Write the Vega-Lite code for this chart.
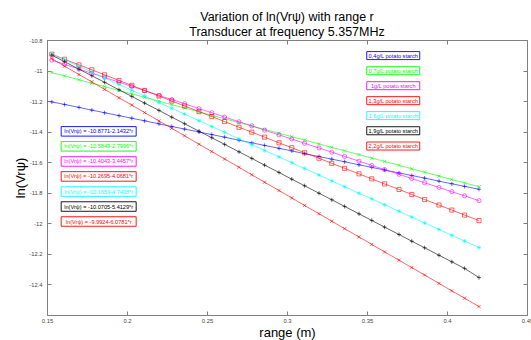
{
  "$schema": "https://vega.github.io/schema/vega-lite/v6.json",
  "width": 480,
  "height": 275,
  "autosize": "none",
  "padding": {"left": 47, "top": 40, "right": 4, "bottom": 25},
  "background": "white",
  "title": {
    "text": ["Variation of ln(Vrψ) with range r", "Transducer at frequency 5.357MHz"],
    "fontSize": 12.5, "fontWeight": "normal", "font": "Liberation Sans", "color": "#000",
    "anchor": "middle", "lineHeight": 15, "offset": 5, "baseline": "alphabetic", "dy": 16
  },
  "datasets": {
    "meas": [
      {"r": 0.153, "a": -11.205, "b": -11.013, "c": -10.932, "d": -10.893, "e": -10.892, "f": -10.899, "g": -10.922},
      {"r": 0.161, "a": -11.222, "b": -11.035, "c": -10.959, "d": -10.926, "e": -10.930, "f": -10.942, "g": -10.971},
      {"r": 0.170, "a": -11.241, "b": -11.060, "c": -10.990, "d": -10.963, "e": -10.972, "f": -10.991, "g": -11.026},
      {"r": 0.178, "a": -11.259, "b": -11.083, "c": -11.018, "d": -10.995, "e": -11.010, "f": -11.034, "g": -11.074},
      {"r": 0.186, "a": -11.276, "b": -11.105, "c": -11.045, "d": -11.028, "e": -11.048, "f": -11.077, "g": -11.123},
      {"r": 0.195, "a": -11.295, "b": -11.130, "c": -11.076, "d": -11.065, "e": -11.091, "f": -11.126, "g": -11.178},
      {"r": 0.203, "a": -11.312, "b": -11.153, "c": -11.104, "d": -11.097, "e": -11.129, "f": -11.169, "g": -11.226},
      {"r": 0.211, "a": -11.329, "b": -11.175, "c": -11.131, "d": -11.130, "e": -11.167, "f": -11.213, "g": -11.275},
      {"r": 0.220, "a": -11.349, "b": -11.200, "c": -11.162, "d": -11.167, "e": -11.210, "f": -11.261, "g": -11.330},
      {"r": 0.228, "a": -11.366, "b": -11.223, "c": -11.190, "d": -11.199, "e": -11.247, "f": -11.305, "g": -11.378},
      {"r": 0.236, "a": -11.383, "b": -11.245, "c": -11.217, "d": -11.232, "e": -11.285, "f": -11.348, "g": -11.427},
      {"r": 0.245, "a": -11.402, "b": -11.270, "c": -11.249, "d": -11.269, "e": -11.328, "f": -11.397, "g": -11.482},
      {"r": 0.253, "a": -11.419, "b": -11.293, "c": -11.276, "d": -11.301, "e": -11.366, "f": -11.440, "g": -11.530},
      {"r": 0.261, "a": -11.436, "b": -11.315, "c": -11.304, "d": -11.334, "e": -11.404, "f": -11.483, "g": -11.579},
      {"r": 0.270, "a": -11.456, "b": -11.340, "c": -11.335, "d": -11.371, "e": -11.447, "f": -11.532, "g": -11.633},
      {"r": 0.278, "a": -11.473, "b": -11.363, "c": -11.362, "d": -11.403, "e": -11.485, "f": -11.575, "g": -11.682},
      {"r": 0.286, "a": -11.490, "b": -11.385, "c": -11.390, "d": -11.436, "e": -11.523, "f": -11.619, "g": -11.731},
      {"r": 0.295, "a": -11.509, "b": -11.410, "c": -11.421, "d": -11.473, "e": -11.565, "f": -11.667, "g": -11.785},
      {"r": 0.303, "a": -11.526, "b": -11.433, "c": -11.448, "d": -11.505, "e": -11.603, "f": -11.711, "g": -11.834},
      {"r": 0.311, "a": -11.544, "b": -11.455, "c": -11.476, "d": -11.538, "e": -11.641, "f": -11.754, "g": -11.883},
      {"r": 0.320, "a": -11.563, "b": -11.480, "c": -11.507, "d": -11.574, "e": -11.684, "f": -11.803, "g": -11.937},
      {"r": 0.328, "a": -11.580, "b": -11.503, "c": -11.534, "d": -11.607, "e": -11.722, "f": -11.846, "g": -11.986},
      {"r": 0.336, "a": -11.597, "b": -11.525, "c": -11.562, "d": -11.640, "e": -11.760, "f": -11.889, "g": -12.035},
      {"r": 0.345, "a": -11.617, "b": -11.550, "c": -11.593, "d": -11.676, "e": -11.803, "f": -11.938, "g": -12.089},
      {"r": 0.353, "a": -11.634, "b": -11.573, "c": -11.621, "d": -11.709, "e": -11.840, "f": -11.981, "g": -12.138},
      {"r": 0.361, "a": -11.651, "b": -11.595, "c": -11.648, "d": -11.742, "e": -11.878, "f": -12.025, "g": -12.187},
      {"r": 0.370, "a": -11.670, "b": -11.620, "c": -11.679, "d": -11.778, "e": -11.921, "f": -12.073, "g": -12.241},
      {"r": 0.378, "a": -11.687, "b": -11.643, "c": -11.707, "d": -11.811, "e": -11.959, "f": -12.117, "g": -12.290},
      {"r": 0.386, "a": -11.704, "b": -11.665, "c": -11.734, "d": -11.844, "e": -11.997, "f": -12.160, "g": -12.338},
      {"r": 0.395, "a": -11.724, "b": -11.690, "c": -11.765, "d": -11.880, "e": -12.040, "f": -12.209, "g": -12.393},
      {"r": 0.403, "a": -11.741, "b": -11.713, "c": -11.793, "d": -11.913, "e": -12.078, "f": -12.252, "g": -12.442},
      {"r": 0.411, "a": -11.758, "b": -11.735, "c": -11.820, "d": -11.946, "e": -12.116, "f": -12.295, "g": -12.490},
      {"r": 0.420, "a": -11.777, "b": -11.760, "c": -11.852, "d": -11.982, "e": -12.158, "f": -12.355, "g": -12.545}
    ],
    "notes": [
      {"kind": "R", "s": "a", "r": 0.3664, "v": -10.902, "label": "0,4g/L potato starch"},
      {"kind": "R", "s": "b", "r": 0.3664, "v": -11.001, "label": "0,7g/L potato starch"},
      {"kind": "R", "s": "c", "r": 0.3664, "v": -11.099, "label": "1g/L potato starch"},
      {"kind": "R", "s": "d", "r": 0.3664, "v": -11.197, "label": "1,3g/L potato starch"},
      {"kind": "R", "s": "e", "r": 0.3664, "v": -11.295, "label": "1,6g/L potato starch"},
      {"kind": "R", "s": "f", "r": 0.3664, "v": -11.394, "label": "1,9g/L potato starch"},
      {"kind": "R", "s": "g", "r": 0.3664, "v": -11.494, "label": "2,2g/L potato starch"},
      {"kind": "L", "s": "a", "r": 0.1823, "v": -11.398, "label": "ln(Vrψ) = -10.8771-2.1432*r"},
      {"kind": "L", "s": "b", "r": 0.1823, "v": -11.496, "label": "ln(Vrψ) = -10.5843-2.7996*r"},
      {"kind": "L", "s": "c", "r": 0.1823, "v": -11.595, "label": "ln(Vrψ) = -10.4043-3.4457*r"},
      {"kind": "L", "s": "d", "r": 0.1823, "v": -11.693, "label": "ln(Vrψ) = -10.2695-4.0681*r"},
      {"kind": "L", "s": "e", "r": 0.1823, "v": -11.792, "label": "ln(Vrψ) = -10.1659-4.7438*r"},
      {"kind": "L", "s": "f", "r": 0.1823, "v": -11.890, "label": "ln(Vrψ) = -10.0705-5.4129*r"},
      {"kind": "L", "s": "g", "r": 0.1823, "v": -11.988, "label": "ln(Vrψ) = -9.9924-6.0781*r"}
    ]
  },
  "layer": [
    {
      "data": {"name": "meas"},
      "transform": [{"fold": ["a", "b", "c", "d", "e", "f", "g"], "as": ["s", "v"]}],
      "mark": {"type": "line", "strokeWidth": 0.6},
      "encoding": {
        "x": {"field": "r", "type": "quantitative", "scale": {"domain": [0.15, 0.45], "nice": false, "zero": false},
          "axis": {"orient": "bottom", "values": [0.15, 0.2, 0.25, 0.3, 0.35, 0.4, 0.45], "labelExpr": "'' + datum.value",
            "tickSize": -4, "labelPadding": 6, "labelFlush": false, "title": "range (m)", "titleFontSize": 13,
            "titleFontWeight": "normal", "titleY": 21, "titleBaseline": "alphabetic"}},
        "y": {"field": "v", "type": "quantitative", "scale": {"domain": [-12.6, -10.8], "nice": false, "zero": false},
          "axis": {"orient": "left", "values": [-10.8, -11, -11.2, -11.4, -11.6, -11.8, -12, -12.2, -12.4], "labelExpr": "'' + datum.value",
            "tickSize": -4, "labelPadding": 9, "labelFlush": false, "title": "ln(Vrψ)", "titleFontSize": 13,
            "titleFontWeight": "normal", "titleAngle": -90, "titleX": -23, "titleY": 137.5, "titleBaseline": "alphabetic", "titleAlign": "center"}},
        "color": {"field": "s", "type": "nominal",
          "scale": {"domain": ["a", "b", "c", "d", "e", "f", "g"], "range": ["#0000ff", "#00ff00", "#ff00ff", "#ff0000", "#00ffff", "#000000", "#ff0000"]},
          "legend": null}
      }
    },
    {
      "data": {"name": "meas"},
      "transform": [{"fold": ["a", "b", "c", "d", "e", "f", "g"], "as": ["s", "v"]}],
      "mark": {"type": "point", "filled": false, "strokeWidth": 0.6, "size": 17, "opacity": 1},
      "encoding": {
        "x": {"field": "r", "type": "quantitative", "axis": null},
        "y": {"field": "v", "type": "quantitative", "axis": null},
        "color": {"field": "s", "type": "nominal", "legend": null},
        "shape": {"field": "s", "type": "nominal", "legend": null,
          "scale": {"domain": ["a", "b", "c", "d", "e", "f", "g"],
            "range": ["M-1,0L1,0M0,-1L0,1", "M-0.8,-0.8L0.8,0.8M-0.8,0.8L0.8,-0.8", "circle", "square",
              "M-1,0L1,0M0,-1L0,1M-0.7,-0.7L0.7,0.7M-0.7,0.7L0.7,-0.7", "M-1,0L1,0M0,-1L0,1", "M-0.8,-0.8L0.8,0.8M-0.8,0.8L0.8,-0.8"]}}
      }
    },
    {
      "data": {"name": "notes"},
      "transform": [{"filter": "datum.kind == 'R'"}],
      "mark": {"type": "point", "shape": "M-1,-0.151L1,-0.151L1,0.151L-1,0.151Z", "size": 2809, "filled": true, "fill": "white", "strokeWidth": 0.9, "opacity": 1},
      "encoding": {
        "x": {"field": "r", "type": "quantitative", "axis": null},
        "y": {"field": "v", "type": "quantitative", "axis": null},
        "stroke": {"field": "s", "type": "nominal", "legend": null,
          "scale": {"domain": ["a", "b", "c", "d", "e", "f", "g"], "range": ["#0000ff", "#00ff00", "#ff00ff", "#ff0000", "#00ffff", "#000000", "#ff0000"]}}
      }
    },
    {
      "data": {"name": "notes"},
      "transform": [{"filter": "datum.kind == 'L'"}],
      "mark": {"type": "point", "shape": "M-1,-0.127L1,-0.127L1,0.127L-1,0.127Z", "size": 5625, "filled": true, "fill": "white", "strokeWidth": 0.9, "opacity": 1},
      "encoding": {
        "x": {"field": "r", "type": "quantitative", "axis": null},
        "y": {"field": "v", "type": "quantitative", "axis": null},
        "stroke": {"field": "s", "type": "nominal", "legend": null}
      }
    },
    {
      "data": {"name": "notes"},
      "mark": {"type": "text", "fontSize": 5.6, "font": "Liberation Sans", "align": "center", "baseline": "middle"},
      "encoding": {
        "x": {"field": "r", "type": "quantitative", "axis": null},
        "y": {"field": "v", "type": "quantitative", "axis": null},
        "text": {"field": "label"},
        "color": {"field": "s", "type": "nominal", "legend": null}
      }
    },
    {
      "data": {"name": "notes"},
      "mark": {"type": "point", "opacity": 0},
      "encoding": {
        "x": {"field": "r", "type": "quantitative",
          "axis": {"orient": "top", "values": [0.15, 0.2, 0.25, 0.3, 0.35, 0.4, 0.45], "labels": false, "tickSize": -4, "title": null}},
        "y": {"field": "v", "type": "quantitative",
          "axis": {"orient": "right", "values": [-10.8, -11, -11.2, -11.4, -11.6, -11.8, -12, -12.2, -12.4], "labels": false, "tickSize": -4, "title": null}}
      }
    }
  ],
  "resolve": {"axis": {"x": "independent", "y": "independent"}},
  "config": {
    "view": {"stroke": "#808080", "strokeWidth": 1},
    "axis": {
      "domainColor": "#808080", "tickColor": "#808080", "labelColor": "#444", "labelFontSize": 5.8,
      "labelFont": "Liberation Sans", "titleFont": "Liberation Sans", "titleColor": "#000", "grid": false,
      "domainWidth": 1, "tickWidth": 1
    }
  }
}
